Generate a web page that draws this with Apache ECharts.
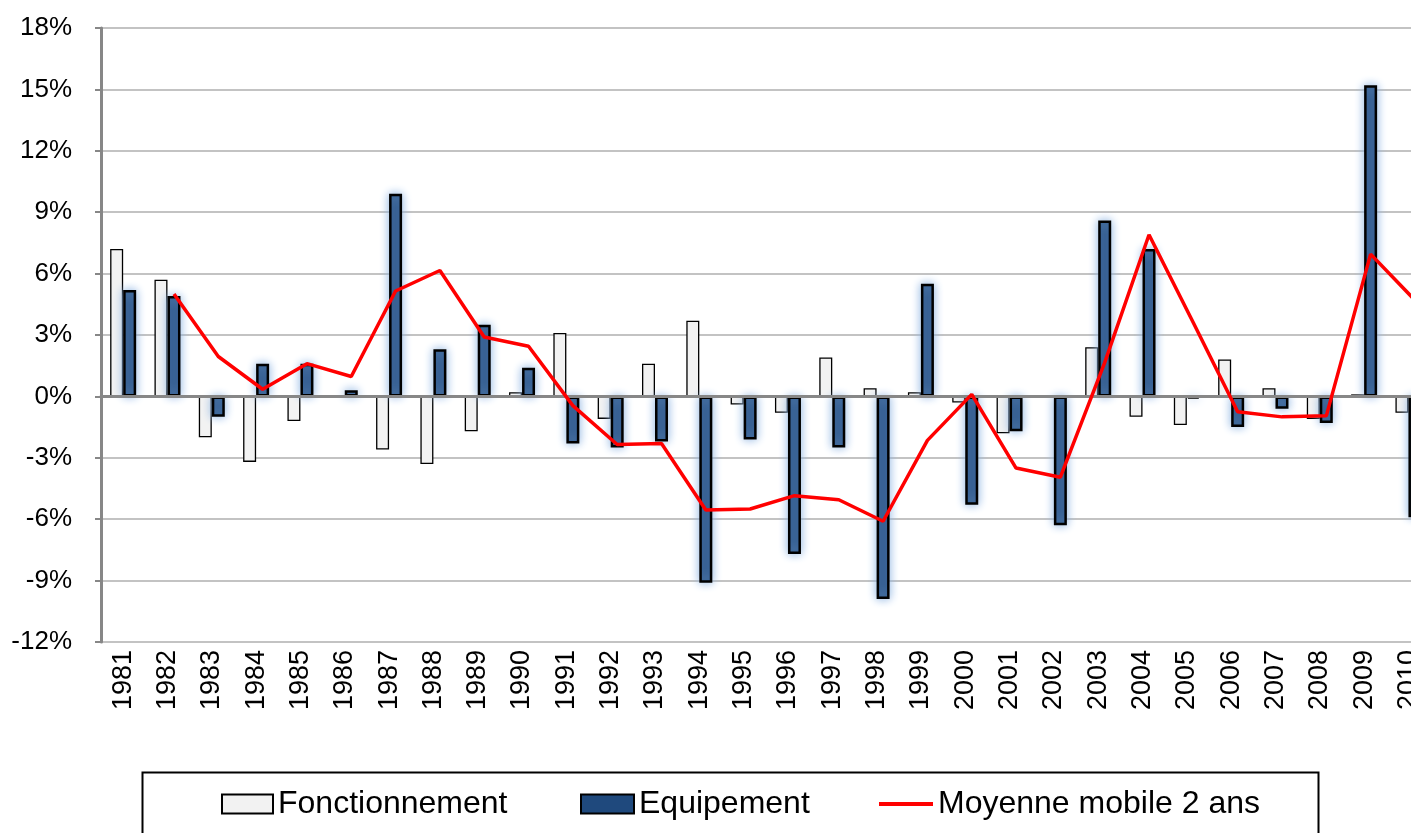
<!DOCTYPE html>
<html>
<head>
<meta charset="utf-8">
<title>Fonctionnement / Equipement</title>
<script src="https://cdn.jsdelivr.net/npm/echarts@6/dist/echarts.min.js"></script>
<style>
  html, body { margin: 0; padding: 0; background: #fff; }
  #chart { width: 1411px; height: 833px; }
</style>
</head>
<body>
<div id="chart"></div>
<script>
// données (en %)
const years = ['1981', '1982', '1983', '1984', '1985', '1986', '1987', '1988', '1989', '1990',
  '1991', '1992', '1993', '1994', '1995', '1996', '1997', '1998', '1999', '2000',
  '2001', '2002', '2003', '2004', '2005', '2006', '2007', '2008', '2009', '2010'];
const fonctionnement = [7.2, 5.7, -2.0, -3.2, -1.2, 0.05, -2.6, -3.3, -1.7, 0.2,
  3.1, -1.1, 1.6, 3.7, -0.4, -0.8, 1.9, 0.4, 0.2, -0.3,
  -1.8, 0, 2.4, -1.0, -1.4, 1.8, 0.4, -1.1, 0.1, -0.8];
const equipement = [5.2, 4.9, -1.0, 1.6, 1.6, 0.3, 9.9, 2.3, 3.5, 1.4,
  -2.3, -2.5, -2.2, -9.1, -2.1, -7.7, -2.5, -9.9, 5.5, -5.3,
  -1.7, -6.3, 8.6, 7.2, -0.1, -1.5, -0.6, -1.3, 15.2, -5.9];
const moyenneMobile = [null, 5.0, 1.95, 0.35, 1.6, 0.97, 5.15, 6.15, 2.9, 2.45,
  -0.45, -2.35, -2.3, -5.55, -5.5, -4.85, -5.05, -6.1, -2.15, 0.1,
  -3.5, -3.95, 1.65, 7.9, 3.6, -0.75, -1.0, -0.95, 6.95, 4.7];
const yMin = -12;
const yMax = 18;
const yStep = 3;

const font = "'Liberation Sans', Arial, sans-serif";
const catWidth = 44.32;
const plotWidth = catWidth * years.length;
const barW = 13;

let option = {
  animation: false,
  backgroundColor: '#ffffff',
  grid: [
    { left: 101, top: 28, width: plotWidth, height: 614, outerBoundsMode: 'none' },
    // la courbe est centrée sur les barres Equipement
    { left: 101 + barW / 2, top: 28, width: plotWidth, height: 614, outerBoundsMode: 'none' }
  ],
  xAxis: [
    {
      type: 'category', gridIndex: 0, data: years, position: 'bottom',
      axisLine: { show: false, onZero: false },
      axisTick: { show: false },
      axisLabel: { rotate: 90, margin: 8, interval: 0, fontSize: 27, fontFamily: font, color: '#000' }
    },
    {
      type: 'category', gridIndex: 0, data: years, position: 'bottom', z: 3,
      axisLine: { onZero: true, onZeroAxisIndex: 0, lineStyle: { color: '#878787', width: 3 } },
      axisTick: { length: 6, lineStyle: { color: '#878787', width: 3 } },
      axisLabel: { show: false }
    },
    {
      type: 'category', gridIndex: 0, data: years, position: 'bottom', z: 3,
      axisLine: { show: false, onZero: true, onZeroAxisIndex: 0 },
      axisTick: { alignWithLabel: true, inside: true, length: 6, lineStyle: { color: '#878787', width: 3 } },
      axisLabel: { show: false }
    },
    { type: 'category', gridIndex: 1, data: years, show: false }
  ],
  yAxis: [
    {
      type: 'value', gridIndex: 0, min: yMin, max: yMax, interval: yStep,
      axisLine: { show: true, lineStyle: { color: '#878787', width: 3 } },
      axisTick: { show: true, length: 6, lineStyle: { color: '#878787', width: 2 } },
      splitLine: { lineStyle: { color: '#c3c3c3', width: 2 } },
      axisLabel: { margin: 29, formatter: '{value}%', fontSize: 26, fontFamily: font, color: '#000' }
    },
    { type: 'value', gridIndex: 1, min: yMin, max: yMax, interval: yStep, show: false }
  ],
  graphic: [
    {
      type: 'rect', left: 140, top: 770, z: 0,
      shape: { width: 1176, height: 100 },
      style: { fill: 'none', stroke: '#000', lineWidth: 2 }
    }
  ],
  legend: [],
  series: [
    {
      name: 'Fonctionnement', type: 'bar', xAxisIndex: 0, yAxisIndex: 0,
      barWidth: barW, barGap: '0%',
      itemStyle: { color: '#f2f2f2', borderColor: '#000', borderWidth: 1.3 },
      data: fonctionnement
    },
    {
      name: 'Equipement', type: 'bar', xAxisIndex: 0, yAxisIndex: 0,
      barWidth: barW, barGap: '0%',
      itemStyle: {
        color: '#1f497d', borderColor: '#000', borderWidth: 2.5,
        shadowBlur: 10, shadowColor: 'rgba(141, 180, 226, 1)'
      },
      data: equipement
    },
    {
      name: 'Moyenne mobile 2 ans', type: 'line', xAxisIndex: 3, yAxisIndex: 1, z: 5,
      symbol: 'none',
      lineStyle: { color: '#ff0000', width: 3.5 },
      itemStyle: { color: '#ff0000' },
      data: moyenneMobile
    }
  ]
};

// une légende par entrée, pour caler chaque position
const legendItems = [
  { name: 'Fonctionnement', left: 221, w: 51, h: 19 },
  { name: 'Equipement', left: 580, w: 53, h: 19 },
  { name: 'Moyenne mobile 2 ans', left: 879, w: 54, h: 4 }
];
legendItems.forEach(function (it) {
  option.legend.push({
    data: [{ name: it.name, icon: 'rect' }],
    left: it.left, top: 788, padding: 0,
    itemWidth: it.w, itemHeight: it.h, itemGap: 0,
    selectedMode: false,
    itemStyle: { shadowBlur: 0 },
    textStyle: { fontSize: 32, fontFamily: font, color: '#000' }
  });
});

let chart = echarts.init(document.getElementById('chart'));
chart.setOption(option);
</script>
</body>
</html>
